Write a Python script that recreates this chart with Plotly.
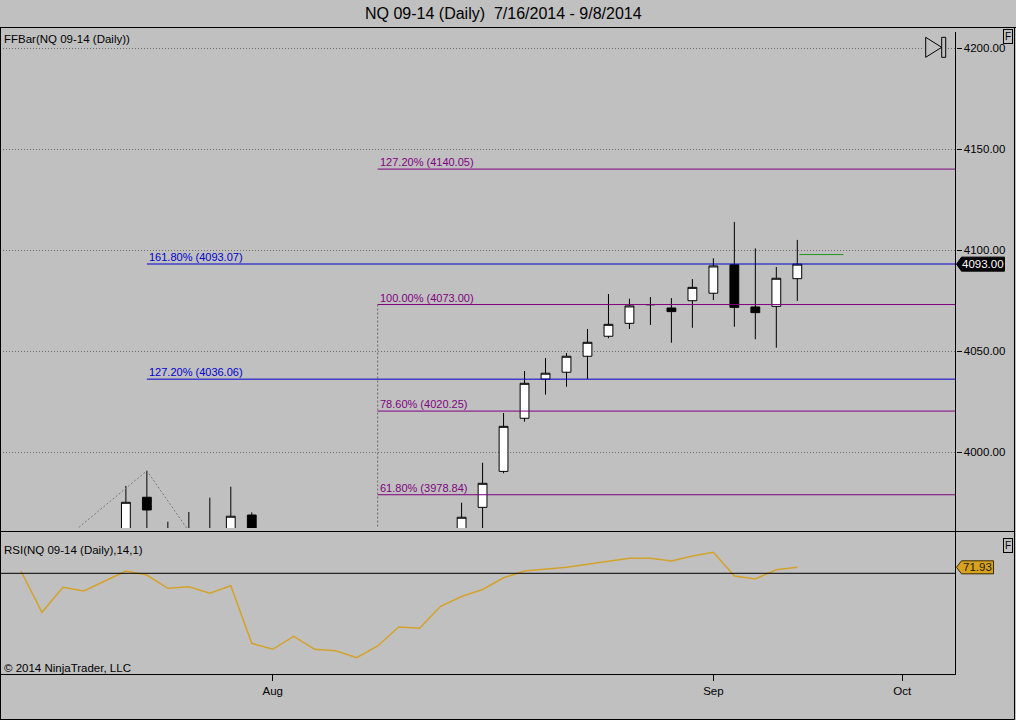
import plotly.graph_objects as go

# ---------------- data ----------------
dates = ["7/16", "7/17", "7/18", "7/21", "7/22", "7/23", "7/24", "7/25", "7/28", "7/29",
         "7/30", "7/31", "8/1", "8/4", "8/5", "8/6", "8/7", "8/8", "8/11", "8/12",
         "8/13", "8/14", "8/15", "8/18", "8/19", "8/20", "8/21", "8/22", "8/25", "8/26",
         "8/27", "8/28", "8/29", "9/2", "9/3", "9/4", "9/5", "9/8"]

opens = [3955, 3957, 3950, 3958, 3956, 3960, 3977.6, 3961, 3953, 3957,
         3952, 3968.8, 3910, 3902, 3924, 3890, 3895, 3875, 3905, 3924,
         3923, 3955, 3972.6, 3990.4, 4016.7, 4036.1, 4039.5, 4047.4, 4057.3, 4063.7,
         4072.9, 4071.3, 4074.9, 4078.6, 4092.7, 4071.8, 4072.1, 4085.8]
highs = [3961, 3959, 3961, 3960, 3961, 3983.2, 3990.7, 3965.5, 3970.3, 3977.4,
         3982.8, 3970.1, 3925, 3930, 3930, 3905, 3910, 3905, 3930, 3932,
         3958, 3974.9, 3994.7, 4019.3, 4040.1, 4046.5, 4049.0, 4060.9, 4078.2, 4075.9,
         4076.7, 4076.2, 4085.6, 4095.9, 4113.9, 4100.8, 4091.6, 4105.0]
lows = [3944, 3947.5, 3948, 3946, 3953, 3957, 3958, 3945, 3940, 3946,
        3947, 3908, 3880, 3895, 3884, 3872, 3868, 3826.47, 3900, 3912,
        3920, 3950, 3958, 3989.5, 4015.0, 4028.4, 4032.3, 4036.1, 4056.3, 4060.9,
        4062.9, 4054.1, 4061.5, 4075.2, 4062.0, 4055.8, 4051.6, 4074.8]
closes = [3958, 3949, 3959, 3955, 3960, 3975.1, 3971.3, 3952, 3956, 3949,
          3968.2, 3912, 3900, 3926, 3893, 3892, 3876, 3902, 3925, 3921,
          3955, 3967.7, 3984.5, 4012.7, 4034.0, 4039.0, 4047.4, 4054.3, 4063.2, 4072.3,
          4073.0, 4069.5, 4081.5, 4092.1, 4071.6, 4069.0, 4086.0, 4093.0]

rsi = [70.74, 57.42, 65.48, 64.29, 67.52, 70.74, 69.45, 65.16, 65.68, 63.55,
       66.00, 47.42, 45.48, 49.68, 45.48, 45.03, 42.77, 46.55, 52.68, 52.26,
       59.35, 62.52, 64.77, 68.55, 70.74, 71.29, 71.94, 72.90, 73.97, 74.84,
       74.84, 73.97, 75.58, 76.77, 69.13, 68.16, 71.16, 71.93]
rsi_line_level = 70

bar_index = list(range(len(dates)))

month_tick_index = [12, 33, 42]
month_tick_text = ["Aug", "Sep", "Oct"]
price_ticks = [4000, 4050, 4100, 4150, 4200]

# Fibonacci levels (FFBar)
purple_start = 17
purple_pct = [61.8, 78.6, 100.0, 127.2]
purple_levels = [3978.84, 4020.25, 4073.00, 4140.05]
blue_start = 6
blue_pct = [127.2, 161.8]
blue_levels = [4036.06, 4093.07]

# swing zigzag
zz_index = [1, 6, 17]
zz_price = [3947.5, 3990.7, 3826.47]

# short green level line
green_index = [37.1, 39.2]
green_price = [4097.75, 4097.75]

# ---------------- layout helpers ----------------
W, H = 1016, 720
FONT = "Liberation Sans, Arial, sans-serif"
BG = "#C0C0C0"
PURPLE = "#800080"
BLUE = "#0000CD"
GOLD = "#D4A22A"


def px(x):
    return x / W


def py(y):
    return 1 - y / H


X_MIN, X_MAX = -1.0, 44.54
AXIS_X = 955.5

fig = go.Figure()

fig.add_trace(go.Candlestick(
    x=bar_index, open=opens, high=highs, low=lows, close=closes,
    increasing=dict(fillcolor="white", line=dict(color="black", width=1)),
    decreasing=dict(fillcolor="black", line=dict(color="black", width=1)),
    whiskerwidth=0, xaxis="x", yaxis="y", showlegend=False, hoverinfo="skip",
))

fig.add_trace(go.Scatter(
    x=zz_index, y=zz_price, mode="lines",
    line=dict(color="#7A7A7A", width=1, dash="2px,2px"),
    xaxis="x", yaxis="y", showlegend=False, hoverinfo="skip",
))

fig.add_trace(go.Scatter(
    x=[purple_start, purple_start], y=[lows[purple_start], purple_levels[2]], mode="lines",
    line=dict(color="#6A6A6A", width=1, dash="2px,2px"),
    xaxis="x", yaxis="y", showlegend=False, hoverinfo="skip",
))

fig.add_trace(go.Scatter(
    x=green_index, y=green_price, mode="lines",
    line=dict(color="#1E9A1E", width=1),
    xaxis="x", yaxis="y", showlegend=False, hoverinfo="skip",
))

fig.add_trace(go.Scatter(
    x=bar_index, y=rsi, mode="lines",
    line=dict(color=GOLD, width=1.5),
    xaxis="x", yaxis="y2", showlegend=False, hoverinfo="skip",
))

shapes = []
annotations = []

# Fibonacci lines + labels
for pct, lvl in zip(purple_pct, purple_levels):
    shapes.append(dict(type="line", xref="x", yref="y", x0=purple_start, x1=X_MAX,
                       y0=lvl, y1=lvl, line=dict(color=PURPLE, width=1)))
    annotations.append(dict(xref="x", yref="y", x=purple_start, y=lvl, xanchor="left",
                            yanchor="middle", yshift=7, showarrow=False,
                            text=f"{pct:.2f}% ({lvl:.2f})",
                            font=dict(family=FONT, size=11, color=PURPLE)))
for pct, lvl in zip(blue_pct, blue_levels):
    shapes.append(dict(type="line", xref="x", yref="y", x0=blue_start, x1=X_MAX,
                       y0=lvl, y1=lvl, line=dict(color=BLUE, width=1)))
    annotations.append(dict(xref="x", yref="y", x=blue_start, y=lvl, xanchor="left",
                            yanchor="middle", yshift=7, showarrow=False,
                            text=f"{pct:.2f}% ({lvl:.2f})",
                            font=dict(family=FONT, size=11, color=BLUE)))

# RSI reference line
shapes.append(dict(type="line", xref="x domain", yref="y2", x0=0, x1=1,
                   y0=rsi_line_level, y1=rsi_line_level, line=dict(color="black", width=1)))

# frame lines
frame = dict(color="black", width=1)
shapes += [
    dict(type="line", xref="paper", yref="paper", x0=0, x1=1, y0=py(27.5), y1=py(27.5), line=frame),
    dict(type="line", xref="paper", yref="paper", x0=0, x1=px(1014.5), y0=py(531.5), y1=py(531.5), line=frame),
    dict(type="line", xref="paper", yref="paper", x0=px(0.5), x1=px(0.5), y0=py(27.5), y1=py(719.5), line=frame),
    dict(type="line", xref="paper", yref="paper", x0=px(1014.5), x1=px(1014.5), y0=py(27.5), y1=py(719.5), line=frame),
    dict(type="line", xref="paper", yref="paper", x0=0, x1=px(1014.5), y0=py(719.5), y1=py(719.5), line=frame),
    dict(type="line", xref="paper", yref="paper", x0=px(AXIS_X), x1=px(AXIS_X), y0=py(32), y1=py(674), line=frame),
]

# ">|" icon
tri = f"M {px(925.7)},{py(37.3)} L {px(941.7)},{py(47.3)} L {px(925.7)},{py(57.3)} Z"
shapes.append(dict(type="rect", xref="paper", yref="paper", x0=px(922), x1=px(948),
                   y0=py(35), y1=py(60), fillcolor=BG, line=dict(width=0)))
shapes.append(dict(type="path", xref="paper", yref="paper", path=tri, fillcolor=BG,
                   line=dict(color="black", width=1)))
shapes.append(dict(type="rect", xref="paper", yref="paper", x0=px(941.7), x1=px(945.7),
                   y0=py(37.3), y1=py(57.3), fillcolor=BG, line=dict(color="black", width=1)))

# last-price marker
shapes.append(dict(type="path", xref="paper", yref="y", xsizemode="pixel", ysizemode="pixel",
                   xanchor=px(AXIS_X), yanchor=closes[-1],
                   path="M 1,0 L 6,7 L 49,7 L 49,-7 L 6,-7 Z",
                   fillcolor="black", line=dict(color="black", width=1)))
annotations.append(dict(xref="paper", yref="y", x=px(982.5), y=closes[-1], xanchor="center",
                        yanchor="middle", showarrow=False, text=f"{closes[-1]:.2f}",
                        font=dict(family=FONT, size=11.5, color="white")))

# last RSI marker
shapes.append(dict(type="path", xref="paper", yref="y2", xsizemode="pixel", ysizemode="pixel",
                   xanchor=px(AXIS_X), yanchor=rsi[-1],
                   path="M 1,0 L 6,6.5 L 38,6.5 L 38,-6.5 L 6,-6.5 Z",
                   fillcolor="#D9A21C", line=dict(color="#3A2A00", width=1)))
annotations.append(dict(xref="paper", yref="y2", x=px(977), y=rsi[-1], xanchor="center",
                        yanchor="middle", showarrow=False, text=f"{rsi[-1]:.2f}",
                        font=dict(family=FONT, size=11.5, color="#1A1A1A")))

# texts
annotations += [
    dict(xref="paper", yref="paper", x=px(503), y=py(13.5), xanchor="center", yanchor="middle",
         showarrow=False, text="NQ 09-14 (Daily)  7/16/2014 - 9/8/2014",
         font=dict(family=FONT, size=16, color="black")),
    dict(xref="paper", yref="paper", x=px(2), y=py(38.5), xanchor="left", yanchor="middle",
         showarrow=False, text="FFBar(NQ 09-14 (Daily))",
         font=dict(family=FONT, size=11.5, color="black")),
    dict(xref="paper", yref="paper", x=px(2), y=py(549.5), xanchor="left", yanchor="middle",
         showarrow=False, text="RSI(NQ 09-14 (Daily),14,1)",
         font=dict(family=FONT, size=11.5, color="black")),
    dict(xref="paper", yref="paper", x=px(2), y=py(667.5), xanchor="left", yanchor="middle",
         showarrow=False, text="© 2014 NinjaTrader, LLC",
         font=dict(family=FONT, size=11.5, color="black")),
    dict(xref="paper", yref="paper", x=px(1008), y=py(36), xanchor="center", yanchor="middle",
         showarrow=False, text="F", bordercolor="black", borderwidth=1, borderpad=1,
         font=dict(family=FONT, size=10, color="black")),
    dict(xref="paper", yref="paper", x=px(1008), y=py(545.5), xanchor="center", yanchor="middle",
         showarrow=False, text="F", bordercolor="black", borderwidth=1, borderpad=1,
         font=dict(family=FONT, size=10, color="black")),
]

# price scale mapping: 4200 at y=48px, 2.02 px per point
P_TOP = 4200 + (48 - 30) / 2.02
P_BOT = 4200 - (528 - 48) / 2.02
# RSI mapping: 70 at y=573.3px, 3.1 px per unit
R_TOP = 70 + (573.3 - 532) / 3.1
R_BOT = 70 - (674 - 573.3) / 3.1

fig.update_layout(
    width=W, height=H,
    margin=dict(l=0, r=0, t=0, b=0, pad=0),
    paper_bgcolor=BG, plot_bgcolor=BG,
    font=dict(family=FONT, size=11, color="black"),
    showlegend=False, hovermode=False,
    boxgap=0.4,
    xaxis=dict(domain=[0, px(AXIS_X)], range=[X_MIN, X_MAX], anchor="y2",
               showgrid=False, zeroline=False, rangeslider=dict(visible=False),
               showline=True, linecolor="black", linewidth=1,
               ticks="outside", ticklen=6, tickcolor="black", tickwidth=1,
               tickvals=month_tick_index, ticktext=month_tick_text,
               tickfont=dict(family=FONT, size=11.5, color="black")),
    yaxis=dict(domain=[py(528), py(30)], range=[P_BOT, P_TOP], anchor="x", side="right",
               showline=False, zeroline=False,
               showgrid=True, gridcolor="#6E6E6E", griddash="1px,2px", gridwidth=1,
               ticks="outside", ticklen=5, tickcolor="black", tickwidth=1,
               tickvals=price_ticks, ticktext=[f"{v:.2f}" for v in price_ticks],
               tickfont=dict(family=FONT, size=11.5, color="black")),
    yaxis2=dict(domain=[py(674), py(532)], range=[R_BOT, R_TOP], anchor="x", side="right",
                showline=False, zeroline=False, showgrid=False, showticklabels=False, ticks=""),
    shapes=shapes,
    annotations=annotations,
)

fig.write_html("out.html", config={"displayModeBar": False},
               post_script="document.body.style.margin='0';document.body.style.overflow='hidden';")
